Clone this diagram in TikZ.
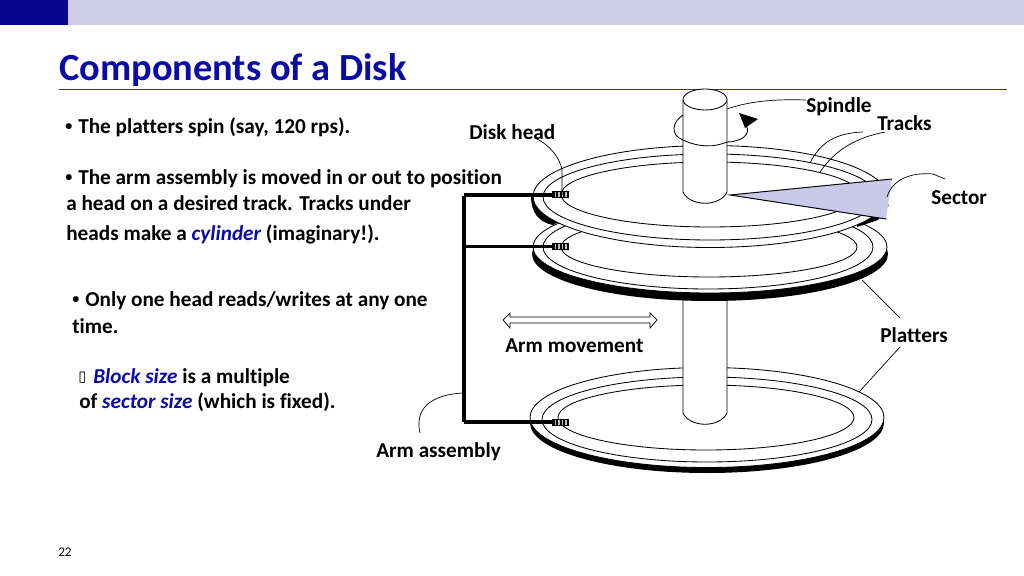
\documentclass[tikz,border=0pt]{standalone}
\usepackage{fontspec}
\setmainfont{Carlito}[Ligatures=NoCommon]
\newfontfamily\boxfont{DejaVu Sans}
\definecolor{band}{HTML}{CDCDEA}
\definecolor{navy}{HTML}{0A0AA6}
\definecolor{sectorfill}{HTML}{CACAE8}
\usetikzlibrary{positioning,calc}

\begin{document}
\begin{tikzpicture}[x=0.025cm,y=-0.025cm]
        \tikzstyle{thin line}=[line width=0.6pt]
        \tikzstyle{txt}=[anchor=base west, inner sep=0pt, font=\fontsize{15.1}{16}\selectfont\bfseries]
        \tikzstyle{dot}=[anchor=base west, inner sep=0pt, font=\fontsize{10}{10}\selectfont\bfseries]
        \tikzstyle{lead}=[line width=0.5pt]
        \tikzstyle{arm}=[line width=2.8pt]
        \newcommand{\kw}[1]{\textcolor{navy}{\itshape #1}}

        \useasboundingbox (0,0) rectangle (1024,576);
        \fill[white] (0,0) rectangle (1024,576);

        % top band and title
        \fill[band] (0,0) rectangle (1024,25);
        \fill[navy!85!black] (0,0) rectangle (68,25);
        \node[anchor=base west, inner sep=0pt, text=navy, font=\fontsize{27.3}{28}\selectfont\bfseries] (title) at (59,81) {Components of a Disk};
        \draw[line width=0.4pt, black!65!blue!80!white] (59,89) -- (1007,89);
        \node[anchor=base west, inner sep=0pt, font=\fontsize{9.4}{10}\selectfont] (page) at (58,556) {22};

        % left text
        \node[dot] (d1) at (65,131) {•};
        \node[txt] (b1) at (78,134) {The platters spin (say, 120 rps).};
        \node[dot] (d2) at (65,182) {•};
        \node[txt] (b2) at (78,185) {The arm assembly is moved in or out to position};
        \node[txt] (b2a) at (66,211) {a head on a desired track. Tracks under};
        \node[txt] (b2b) at (66,241) {heads make a \kw{cylinder} (imaginary!).};
        \node[dot] (d3) at (72,304) {•};
        \node[txt] (b3) at (85,307) {Only one head reads/writes at any one};
        \node[txt] (b3a) at (72,333) {time.};
        \node[anchor=base west, inner sep=0pt, font=\boxfont\fontsize{10.5}{10}\selectfont] (d4) at (78,382) {\symbol{"25AF}};
        \node[txt] (b4) at (93,383) {\kw{Block size} is a multiple};
        \node[txt] (b4a) at (79,408) {of \kw{sector size} (which is fixed).};

        % bottom platter
        \fill[black] (707,423) ellipse [x radius=177, y radius=50];
        \draw[thin line, fill=white] (707,417.5) ellipse [x radius=177, y radius=50];
        \draw[thin line] (707,419.5) ellipse [x radius=165, y radius=42.5];
        \draw[thin line] (706,417.5) ellipse [x radius=148, y radius=32.5];

        % lower spindle
        \draw[thin line, fill=white] (683,300) -- (683,413) .. controls (690,428) and (720,428) .. (727,413) -- (727,300);

        % middle platter
        \fill[black] (710,254) ellipse [x radius=178, y radius=47];
        \draw[thin line, fill=white] (710,247) ellipse [x radius=177, y radius=46];
        \draw[thin line] (708,247) ellipse [x radius=165, y radius=42];
        \draw[thin line] (709,247) ellipse [x radius=148, y radius=30];

        % top platter
        \fill[black] (531,196) .. controls (531,212) and (538,222) .. (553,225) -- (560,221) -- (560,200) -- cycle;
        \fill[black] (857,227) -- (878,220) -- (889,205) -- (860,205) -- cycle;
        \fill[black] (870,179) circle (4);
        \draw[thin line, fill=white] (710,196.5) ellipse [x radius=177, y radius=51];
        \draw[thin line] (710,197) ellipse [x radius=167, y radius=43];
        \draw[thin line] (710,194.5) ellipse [x radius=149, y radius=32.5];

        % upper spindle
        \draw[thin line, fill=white] (683,100) -- (683,192) .. controls (690,207) and (720,207) .. (727,192) -- (727,100);
        \draw[thin line, fill=white] (705,99.5) ellipse [x radius=22, y radius=10.5];

        % spin arrow
        \draw[thin line] (683,115) .. controls (672,122) and (670,135) .. (683,140) .. controls (700,148) and (715,147) .. (727,142) .. controls (740,142) and (752,135) .. (746,125);
        \fill[black] (739,113) -- (758,119) -- (745,128) -- cycle;

        % sector
        \fill[sectorfill] (730,195) -- (892,179) -- (886,219) -- cycle;
        \draw[line width=0.7pt] (892,179) -- (730,195) -- (886,219);

        % arm assembly
        \coordinate (armtop) at (464,196);
        \coordinate (armlow) at (464,422);
        \draw[arm] (armtop) -- (armlow);
        \foreach \hy/\hn in {195/h1,246.5/h2,422/h3}{
            \draw[arm] (464,\hy) -- (553,\hy);
            \node[fill=black, inner sep=0pt, minimum width=4.4mm, minimum height=1.75mm] (\hn) at (560.5,\hy) {};
            \foreach \dx in {554.5,558,561.5,565}
                \fill[black!25] (\dx,\hy-2.5) rectangle (\dx+1.7,\hy+2.5);
        }

        % arm movement
        \draw[line width=0.5pt, fill=white] (503,320) -- (510,313) -- (510,317) -- (650,317) -- (650,313) -- (657,320) -- (650,328) -- (650,323) -- (510,323) -- (510,328) -- cycle;
        \node[txt] (movelabel) at (505,353) {Arm movement};

        % labels and leaders
        \node[txt] (spindlelabel) at (806,112.5) {Spindle};
        \node[txt] (trackslabel) at (877,130.5) {Tracks};
        \node[txt] (sectorlabel) at (931,205) {Sector};
        \node[txt] (platterslabel) at (880,342) {Platters};
        \node[txt] (headlabel) at (469,139.5) {Disk head};
        \node[txt] (armlabel) at (376,457) {Arm assembly};

        \coordinate (spindletip) at (727,109);
        \coordinate (tracka) at (810,163);
        \coordinate (trackb) at (820,172);
        \coordinate (sectortip) at (887,197);
        \coordinate (headtip) at (562,195);
        \coordinate (plattera) at (862,280);
        \coordinate (platterb) at (859,392);
        \coordinate (armtip) at (463,393);

        \draw[lead] (spindletip) .. controls (750,101) and (775,99) .. (806,100);
        \draw[lead] (tracka) .. controls (820,143) and (835,133) .. (863,132);
        \draw[lead] (trackb) .. controls (835,150) and (855,138) .. (885,132);
        \draw[lead] (sectortip) .. controls (892,180) and (910,172) .. (933,174) -- (945,179);
        \draw[lead] (headtip) -- (562,170) .. controls (560,158) and (550,145) .. (535,138);
        \draw[lead] (plattera) -- (900,318);
        \draw[lead] (platterb) -- (900,347);
        \draw[lead] (armtip) .. controls (440,394) and (413,403) .. (420,433);
    \end{tikzpicture}
\end{document}
